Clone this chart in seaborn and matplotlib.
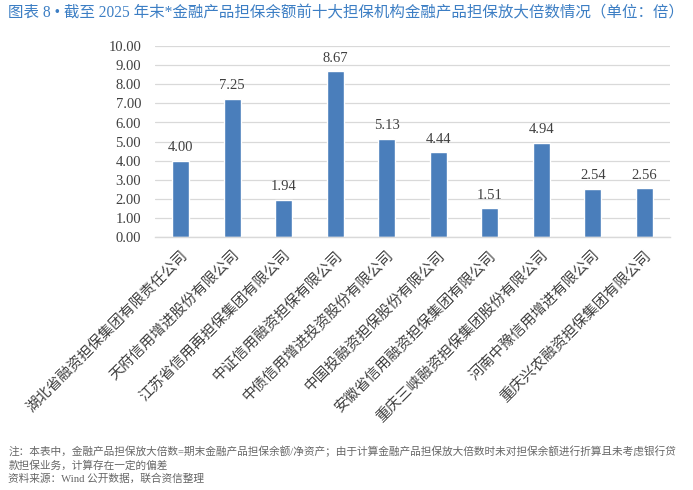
import matplotlib
matplotlib.use('Agg')
import matplotlib.pyplot as plt
import seaborn as sns
import pandas as pd

companies = ['湖北省融资担保集团有限责任公司', '天府信用增进股份有限公司', '江苏省信用再担保集团有限公司',
             '中证信用融资担保有限公司', '中债信用增进投资股份有限公司', '中国投融资担保股份有限公司',
             '安徽省信用融资担保集团有限公司', '重庆三峡融资担保集团股份有限公司', '河南中豫信用增进有限公司',
             '重庆兴农融资担保集团有限公司']
multiples = [4.00, 7.25, 1.94, 8.67, 5.13, 4.44, 1.51, 4.94, 2.54, 2.56]
y_ticks = [0, 1, 2, 3, 4, 5, 6, 7, 8, 9, 10]

title = '图表 8 • 截至 2025 年末*金融产品担保余额前十大担保机构金融产品担保放大倍数情况（单位：倍）'
note1 = '注：本表中，金融产品担保放大倍数=期末金融产品担保余额/净资产；由于计算金融产品担保放大倍数时未对担保余额进行折算且未考虑银行贷'
note2 = '款担保业务，计算存在一定的偏差'
note3 = '资料来源：Wind 公开数据，联合资信整理'

sns.set_theme(style='white')
plt.rcParams['font.family'] = ['Liberation Serif', 'Noto Sans CJK SC', 'DejaVu Sans']
plt.rcParams['axes.unicode_minus'] = False

df = pd.DataFrame({'company': companies, 'multiple': multiples})

fig = plt.figure(figsize=(6.93, 4.90), dpi=100)
ax = fig.add_axes([0.2237, 0.516, 0.743, 0.390])

sns.barplot(data=df, x='company', y='multiple', color='#4A7EBB', width=0.33,
            saturation=1, ax=ax)

for i, v in enumerate(multiples):
    ax.text(i, v + 0.35, f'{v:.2f}', ha='center', va='bottom', fontsize=10.5, color='#404040')

ax.set_ylim(0, 10)
ax.set_yticks(y_ticks)
ax.set_yticklabels([f'{t:.2f}' for t in y_ticks], fontsize=10.5, color='#404040')
ax.set_xlabel('')
ax.set_ylabel('')
ax.set_xticks(range(len(companies)))
ax.set_xticklabels(companies, rotation=45, ha='right', rotation_mode='anchor',
                   fontsize=10.6, color='#404040')
ax.tick_params(axis='x', pad=8, length=0)
ax.tick_params(axis='y', pad=10, length=0)
ax.set_xlim(-0.5, len(companies) - 0.5)
ax.yaxis.grid(True, color='#D9D9D9', linewidth=0.9)
ax.set_axisbelow(True)
for s in ['top', 'right', 'left']:
    ax.spines[s].set_visible(False)
ax.spines['bottom'].set_color('#D9D9D9')
ax.spines['bottom'].set_linewidth(1.0)

fig.text(0.012, 0.972, title, fontsize=11.2, color='#3C7EC4', va='center', ha='left')
fig.text(0.012, 0.078, note1, fontsize=7.7, color='#666666', va='center', ha='left')
fig.text(0.012, 0.051, note2, fontsize=7.7, color='#666666', va='center', ha='left')
fig.text(0.012, 0.0224, note3, fontsize=7.7, color='#666666', va='center', ha='left')

fig.savefig('out.png', dpi=100)
